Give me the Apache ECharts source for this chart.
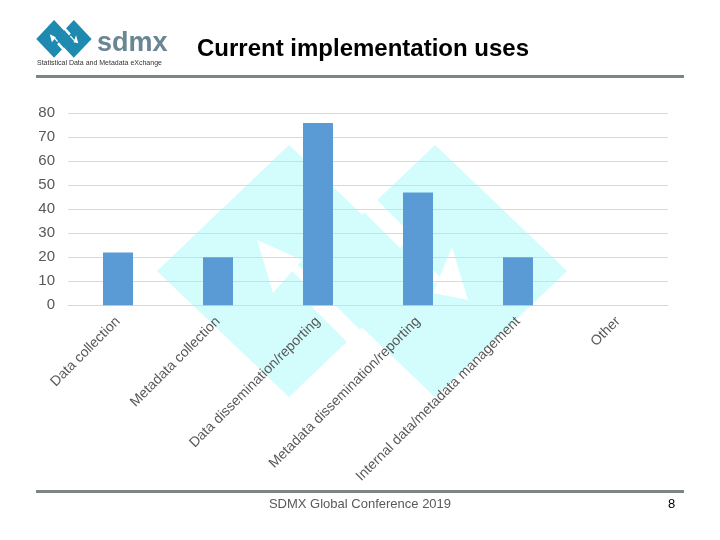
<!DOCTYPE html>
<html>
<head>
<meta charset="utf-8">
<script src="https://cdn.jsdelivr.net/npm/echarts@6/dist/echarts.min.js"></script>
<style>html,body{margin:0;padding:0;background:#fff}#c{width:720px;height:540px}</style>
</head>
<body>
<div id="c"></div>
<script>
const categories = ['Data collection', 'Metadata collection', 'Data dissemination/reporting', 'Metadata dissemination/reporting', 'Internal data/metadata management', 'Other'];
const values = [22, 20, 76, 47, 20, 0];
const yMin = 0, yMax = 80, yStep = 10;
const titleText = 'Current implementation uses';
const footerText = 'SDMX Global Conference 2019';
const pageNumber = '8';

// SDMX logo shape (decoration), in watermark coordinates
const logoShapes = {
  leftDiamond: [[157,271],[289,145],[421,271],[289,397]],
  rightDiamond: [[303,271],[435,145],[567,271],[435,397]],
  gapTop: [[344,167],[412,235],[400,248],[334,182]],
  gapBottom: [[380,375],[312,307],[324,294],[390,360]],
  arrowL: [[257,240],[302,260],[273,293]],
  stemL: [[283,262],[289,256],[318,285],[312,291]],
  arrowR: [[452,247],[468,300],[433,293]],
  stemR: [[441,278],[435,284],[406,255],[412,249]]
};

function tf(pts, ox, oy, sx, sy) {
  return pts.map(p => [ox + (p[0] - 155) * sx, oy + (p[1] - 145) * sy]);
}
function logoGraphics(ox, oy, sx, sy, fill, bg, z) {
  const g = [];
  const add = (pts, c) => g.push({type: 'polygon', z: z, silent: true, shape: {points: tf(pts, ox, oy, sx, sy)}, style: {fill: c}});
  add(logoShapes.leftDiamond, fill);
  add(logoShapes.rightDiamond, fill);
  add(logoShapes.gapTop, bg);
  add(logoShapes.gapBottom, bg);
  add(logoShapes.arrowL, bg);
  add(logoShapes.stemL, bg);
  add(logoShapes.arrowR, bg);
  add(logoShapes.stemR, bg);
  return g;
}

const chart = echarts.init(document.getElementById('c'), null, {renderer: 'canvas'});
const font = '"Liberation Sans", Arial, sans-serif';

const graphics = [].concat(
  logoGraphics(155, 145, 1, 1, '#d3fcfc', '#ffffff', -10),
  logoGraphics(36, 20, 0.135, 0.15, '#1f8ab0', '#ffffff', 10),
  [
    {type: 'text', z: 10, left: 97, top: 30, style: {text: 'sdmx', font: 'bold 27px "Liberation Sans", Arial, sans-serif', fill: '#6a8593'}},
    {type: 'text', z: 10, left: 37, top: 60, style: {text: 'Statistical Data and Metadata eXchange', font: '7px "Liberation Sans Narrow", "Liberation Sans", sans-serif', fill: '#333333'}},
    {type: 'text', z: 10, left: 197, top: 37, style: {text: titleText, font: 'bold 24px "Liberation Sans", Arial, sans-serif', fill: '#000000'}},
    {type: 'rect', z: 10, shape: {x: 36, y: 75, width: 648, height: 3}, style: {fill: '#7b8685'}},
    {type: 'rect', z: 10, shape: {x: 36, y: 490, width: 648, height: 3}, style: {fill: '#7b8685'}},
    {type: 'text', z: 10, left: 'center', top: 498, style: {text: footerText, font: '13px "Liberation Sans", Arial, sans-serif', fill: '#595959'}},
    {type: 'text', z: 10, left: 668, top: 498, style: {text: pageNumber, font: '13px "Liberation Sans", Arial, sans-serif', fill: '#000000'}}
  ]
);

chart.setOption({
  animation: false,
  backgroundColor: '#ffffff',
  textStyle: {fontFamily: font},
  grid: {left: 68, right: 52, top: 113.3, bottom: 234.7, containLabel: false},
  xAxis: {
    type: 'category',
    data: categories,
    axisLine: {show: true, lineStyle: {color: '#d9d9d9', width: 1}},
    axisTick: {show: false},
    axisLabel: {interval: 0, rotate: 45, fontSize: 14, color: '#595959', margin: 14, fontFamily: font}
  },
  yAxis: {
    type: 'value',
    min: yMin, max: yMax, interval: yStep,
    axisLine: {show: false},
    axisTick: {show: false},
    axisLabel: {fontSize: 15, color: '#595959', margin: 13, fontFamily: font},
    splitLine: {lineStyle: {color: '#d9d9d9', width: 1}}
  },
  series: [{
    type: 'bar',
    data: values,
    barWidth: 30,
    itemStyle: {color: '#5b9bd5'},
    z: 2
  }],
  graphic: graphics
});
</script>
</body>
</html>
